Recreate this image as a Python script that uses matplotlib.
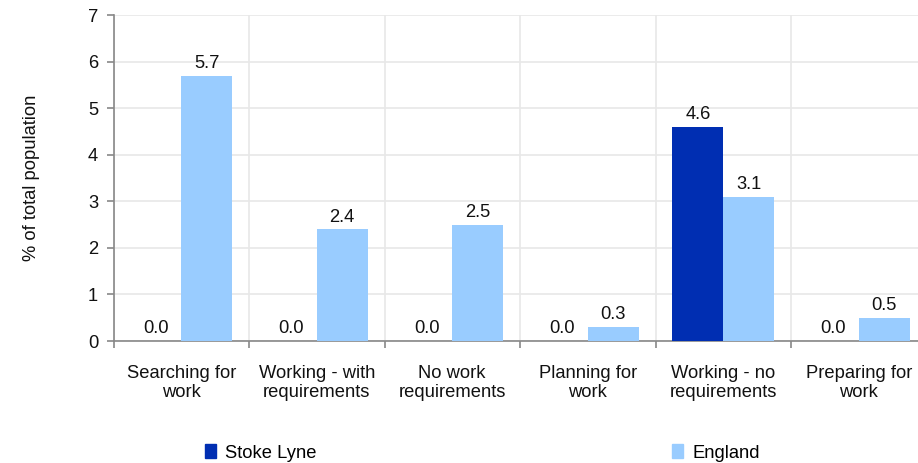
import matplotlib
matplotlib.use("Agg")
import matplotlib.pyplot as plt
import numpy as np

categories = ["Searching for\nwork", "Working - with\nrequirements", "No work\nrequirements",
              "Planning for\nwork", "Working - no\nrequirements", "Preparing for\nwork"]
stoke_lyne = [0.0, 0.0, 0.0, 0.0, 4.6, 0.0]
england = [5.7, 2.4, 2.5, 0.3, 3.1, 0.5]
series_names = ["Stoke Lyne", "England"]
colors = ["#002EB2", "#99CCFF"]

plt.rcParams['font.family'] = ['Liberation Sans', 'DejaVu Sans']
FS = 13.2
fig = plt.figure(figsize=(9.18, 4.63), dpi=100)
W, H = 918, 463
ax = fig.add_axes([113.5 / W, 1 - 341 / H, 813 / W, (341 - 15) / H])

x = np.arange(len(categories))
bw = 0.375
b1 = ax.bar(x - bw / 2, stoke_lyne, bw, color=colors[0], label=series_names[0], zorder=3)
b2 = ax.bar(x + bw / 2, england, bw, color=colors[1], label=series_names[1], zorder=3)
for bars, vals in ((b1, stoke_lyne), (b2, england)):
    for r, v in zip(bars, vals):
        ax.text(r.get_x() + r.get_width() / 2, v + 0.08, f"{v:.1f}", ha="center", va="bottom",
                fontsize=FS, color="#111111")

ax.set_xlim(-0.5, len(categories) - 0.5)
ax.set_ylim(0, 7)
ax.set_yticks(range(0, 8))
ax.set_xticks(x)
ax.set_xticklabels(categories, fontsize=FS, color="#111111", linespacing=1.2)
ax.set_xticks(np.arange(-0.5, len(categories) + 0.5, 1), minor=True)
ax.tick_params(axis="x", which="major", length=0, pad=17)
ax.tick_params(axis="x", which="minor", length=5, color="#888888", width=1.2)
ax.tick_params(axis="y", length=5, color="#888888", width=1.2, labelsize=FS, labelcolor="#111111", pad=6)
ax.grid(True, axis="y", color="#e8e8e8", linewidth=1.2, zorder=0)
ax.grid(True, axis="x", which="minor", color="#e8e8e8", linewidth=1.2, zorder=0)
for s in ("top", "right"):
    ax.spines[s].set_visible(False)
for s in ("left", "bottom"):
    ax.spines[s].set_color("#888888")
    ax.spines[s].set_linewidth(1.2)
ax.set_ylabel("% of total population", fontsize=FS, color="#111111")
ax.yaxis.set_label_coords(-73 / 813, 0.5)

handles = [plt.Rectangle((0, 0), 1, 1, color=c) for c in colors]
for h, name, xl in zip(handles, series_names, (205, 672)):
    fig.legend([h], [name], loc="center left", bbox_to_anchor=(xl / W, 1 - 453 / H),
               frameon=False, fontsize=FS, handlelength=0.6, handleheight=0.75,
               handletextpad=0.5, borderpad=0, borderaxespad=0)

fig.savefig("out.png", dpi=100)
